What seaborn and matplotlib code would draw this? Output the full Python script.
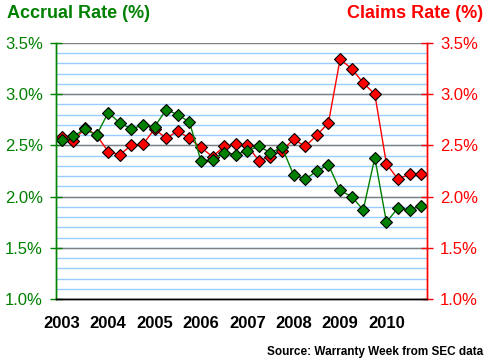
import numpy as np
import pandas as pd
import matplotlib
matplotlib.use("Agg")
import matplotlib.pyplot as plt
import seaborn as sns

# quarterly rates, 2003 Q1 .. 2010 Q4
accrual_rate = [2.55, 2.59, 2.66, 2.60, 2.82, 2.72, 2.66, 2.70,
                2.68, 2.85, 2.80, 2.73, 2.35, 2.36, 2.43, 2.41,
                2.45, 2.49, 2.43, 2.48, 2.21, 2.17, 2.25, 2.31,
                2.06, 2.00, 1.87, 2.38, 1.75, 1.89, 1.87, 1.91]
claims_rate = [2.58, 2.54, 2.67, 2.60, 2.44, 2.41, 2.50, 2.51,
               2.66, 2.57, 2.64, 2.57, 2.48, 2.39, 2.49, 2.51,
               2.50, 2.35, 2.39, 2.45, 2.56, 2.49, 2.60, 2.72,
               3.34, 3.25, 3.11, 3.00, 2.32, 2.17, 2.22, 2.22]
years = ["2003", "2004", "2005", "2006", "2007", "2008", "2009", "2010"]
y_ticks = [1.0, 1.5, 2.0, 2.5, 3.0, 3.5]

GREEN = "#008000"
RED = "#FF0000"

sns.set_style("white")
plt.rcParams['font.family'] = ['Liberation Sans', 'DejaVu Sans']

df = pd.DataFrame({
    "quarter": np.arange(len(accrual_rate)),
    "accrual": accrual_rate,
    "claims": claims_rate,
})

fig = plt.figure(figsize=(4.88, 3.63), dpi=100)
ax = fig.add_axes([56 / 488, 1 - 299 / 363, (427 - 56) / 488, (299 - 43) / 363])

# grid: light blue every 0.1, grey every 0.5
for v in np.arange(1.1, 3.5, 0.1):
    ax.axhline(v, color="#99CCFF", lw=1, zorder=0)
for v in y_ticks:
    ax.axhline(v, color="#808080", lw=1, zorder=0.5)

sns.lineplot(data=df, x="quarter", y="claims", ax=ax, color=RED, lw=1,
             marker="D", markersize=6.5, markerfacecolor=RED,
             markeredgecolor="black", markeredgewidth=0.8, zorder=3)
sns.lineplot(data=df, x="quarter", y="accrual", ax=ax, color=GREEN, lw=1,
             marker="D", markersize=6.5, markerfacecolor=GREEN,
             markeredgecolor="black", markeredgewidth=0.8, zorder=4)

n = len(accrual_rate)
ax.set_xlim(-0.5, n - 0.5)
ax.set_ylim(1.0, 3.5)
ax.set_xlabel("")
ax.set_ylabel("")

ax.set_xticks(np.arange(0, n, 4))
ax.set_xticklabels(years, fontsize=12, fontweight="bold", color="black")
ax.set_xticks(np.arange(-0.5, n, 1), minor=True)
ax.tick_params(axis="x", which="major", length=0, pad=12)
ax.tick_params(axis="x", which="minor", direction="inout", length=8,
               width=1, color="black")

ax.set_yticks(y_ticks)
ax.set_yticklabels([f"{v:.1f}%" for v in y_ticks], fontsize=12, color=GREEN)
ax.tick_params(axis="y", direction="inout", length=9, width=1,
               color=GREEN, pad=5)

ax2 = ax.twinx()
ax2.set_ylim(1.0, 3.5)
ax2.set_yticks(y_ticks)
ax2.set_yticklabels([f"{v:.1f}%" for v in y_ticks], fontsize=12, color=RED)
ax2.tick_params(axis="y", direction="inout", length=9, width=1,
                color=RED, pad=5)

for a in (ax, ax2):
    a.spines["top"].set_visible(False)
    a.spines["left"].set_color(GREEN)
    a.spines["right"].set_color(RED)
    a.spines["bottom"].set_color("black")
    for s in a.spines.values():
        s.set_linewidth(1)

fig.text(7 / 488, 1 - 13 / 363, "Accrual Rate (%)", color=GREEN,
         fontsize=13, fontweight="bold", ha="left", va="center")
fig.text(483 / 488, 1 - 13 / 363, "Claims Rate (%)", color=RED,
         fontsize=13, fontweight="bold", ha="right", va="center")
fig.text(483 / 488, 1 - 352 / 363, "Source: Warranty Week from SEC data",
         color="black", fontsize=8.5, fontweight="bold", ha="right", va="center")

fig.savefig("out.png", dpi=100)
